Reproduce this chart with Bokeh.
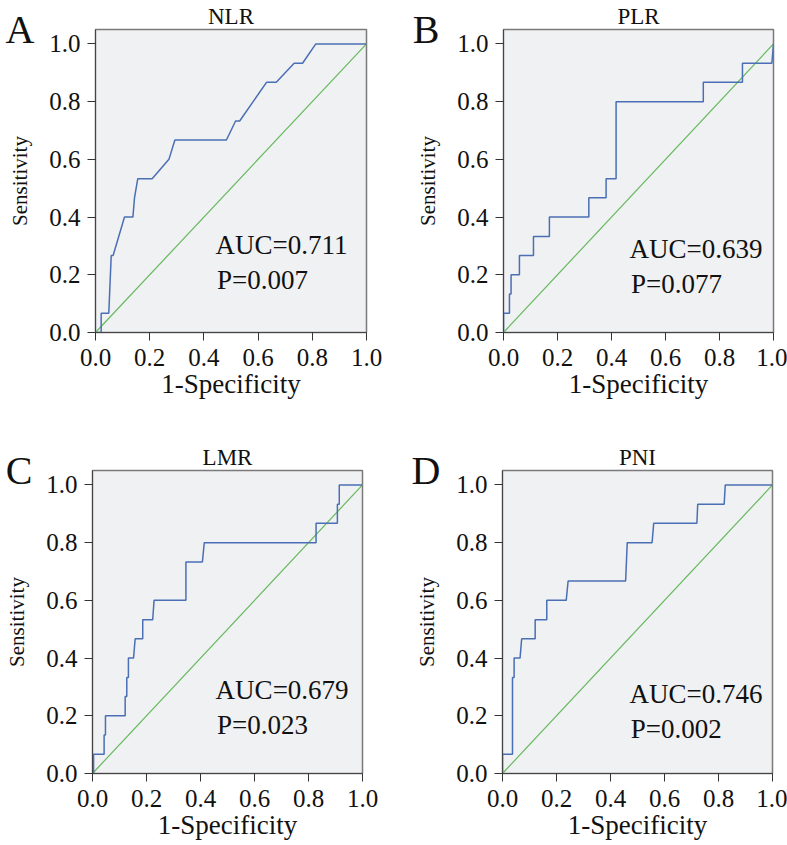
from bokeh.plotting import figure
from bokeh.models import Range1d, FixedTicker, PrintfTickFormatter, Label, LinearAxis
from bokeh.layouts import column, row
from bokeh.embed import file_html
from bokeh.resources import INLINE

# ---------------- data ----------------
ticks = [0.0, 0.2, 0.4, 0.6, 0.8, 1.0]
titles = ["NLR", "PLR", "LMR", "PNI"]
letters = ["A", "B", "C", "D"]
auc_texts = ["AUC=0.711", "AUC=0.639", "AUC=0.679", "AUC=0.746"]
p_texts = ["P=0.007", "P=0.077", "P=0.023", "P=0.002"]
ref_x = [0.0, 1.0]
ref_y = [0.0, 1.0]

nlr_fpr = [0, 0.021, 0.021, 0.049, 0.052, 0.058, 0.065, 0.107, 0.138, 0.144, 0.156, 0.209,
           0.271, 0.293, 0.483, 0.517, 0.532, 0.631, 0.667, 0.733, 0.764, 0.813, 1.0]
nlr_tpr = [0, 0, 0.067, 0.067, 0.133, 0.267, 0.267, 0.4, 0.4, 0.467, 0.533, 0.533,
           0.6, 0.667, 0.667, 0.733, 0.733, 0.867, 0.867, 0.933, 0.933, 1.0, 1.0]
plr_fpr = [0, 0, 0.022, 0.022, 0.028, 0.028, 0.059, 0.059, 0.111, 0.111, 0.170, 0.170,
           0.316, 0.316, 0.380, 0.380, 0.417, 0.417, 0.740, 0.740, 0.885, 0.885, 0.994, 1.0]
plr_tpr = [0, 0.067, 0.067, 0.133, 0.133, 0.2, 0.2, 0.267, 0.267, 0.333, 0.333, 0.4,
           0.4, 0.467, 0.467, 0.533, 0.533, 0.8, 0.8, 0.867, 0.867, 0.933, 0.933, 1.0]
lmr_fpr = [0, 0.004, 0.004, 0.043, 0.043, 0.048, 0.048, 0.121, 0.121, 0.127, 0.127, 0.133,
           0.133, 0.152, 0.158, 0.186, 0.186, 0.223, 0.228, 0.346, 0.346, 0.407, 0.414,
           0.828, 0.828, 0.907, 0.907, 0.914, 0.914, 1.0]
lmr_tpr = [0, 0, 0.067, 0.067, 0.133, 0.133, 0.2, 0.2, 0.267, 0.267, 0.333, 0.333,
           0.4, 0.4, 0.467, 0.467, 0.533, 0.533, 0.6, 0.6, 0.733, 0.733, 0.8,
           0.8, 0.867, 0.867, 0.933, 0.933, 1.0, 1.0]
pni_fpr = [0, 0, 0.037, 0.037, 0.043, 0.043, 0.065, 0.071, 0.121, 0.121, 0.164, 0.164,
           0.236, 0.243, 0.456, 0.459, 0.462, 0.554, 0.560, 0.720, 0.723, 0.821, 0.825, 1.0]
pni_tpr = [0, 0.067, 0.067, 0.333, 0.333, 0.4, 0.4, 0.467, 0.467, 0.533, 0.533, 0.6,
           0.6, 0.667, 0.667, 0.733, 0.8, 0.8, 0.867, 0.867, 0.933, 0.933, 1.0, 1.0]
curves = [(nlr_fpr, nlr_tpr), (plr_fpr, plr_tpr), (lmr_fpr, lmr_tpr), (pni_fpr, pni_tpr)]

# ---------------- style ----------------
FONT = "Liberation Serif"
BLUE = "#4a6fb5"
GREEN = "#66b95c"
BG = "#f0f1f3"
INK = "#111111"

# (width, height, left, right, top, bottom)
geom = [
    (408, 437, 95, 42, 29, 105),
    (379, 437, 95, 14, 29, 105),
    (408, 408, 92, 46, 33, 72),
    (379, 408, 94, 15, 33, 72),
]
letter_standoff = [-29, -26, -30, -28]
auc_pos = [(0.443, 0.302, 0.181), (0.467, 0.288, 0.167), (0.456, 0.288, 0.167), (0.47, 0.274, 0.153)]


def letter_axis(letter, standoff):
    return LinearAxis(ticker=FixedTicker(ticks=[]), axis_line_color=None,
                      major_tick_line_color=None, minor_tick_line_color=None,
                      major_label_text_font_size="0px",
                      axis_label=letter, axis_label_orientation="horizontal",
                      axis_label_align="end", axis_label_standoff=standoff,
                      axis_label_text_font=FONT, axis_label_text_font_size="40px",
                      axis_label_text_font_style="normal", axis_label_text_color=INK,
                      axis_label_text_baseline="middle")


def panel(i):
    w, h, bl, br, bt, bb = geom[i]
    fpr, tpr = curves[i]
    p = figure(width=w, height=h, output_backend="svg", toolbar_location=None,
               x_range=Range1d(0, 1), y_range=Range1d(0, 1.05),
               min_border_left=bl, min_border_right=br, min_border_top=bt,
               min_border_bottom=bb, title=titles[i])
    p.title.align = "center"
    p.title.text_font = FONT
    p.title.text_font_size = "23px"
    p.title.text_font_style = "normal"
    p.title.text_color = INK
    p.title.standoff = 2
    p.background_fill_color = BG
    p.border_fill_color = "white"
    p.outline_line_color = "#7a7a7a"
    p.outline_line_width = 1.5
    p.xgrid.visible = False
    p.ygrid.visible = False

    for ax in (p.xaxis[0], p.yaxis[0]):
        ax.ticker = FixedTicker(ticks=ticks)
        ax.formatter = PrintfTickFormatter(format="%.1f")
        ax.minor_tick_line_color = None
        ax.major_tick_in = 0
        ax.major_tick_out = 8
        ax.major_tick_line_color = "#333333"
        ax.axis_line_color = "#444444"
        ax.major_label_text_font = FONT
        ax.major_label_text_font_size = "25px"
        ax.major_label_text_color = INK
        ax.axis_label_text_font = FONT
        ax.axis_label_text_font_style = "normal"
        ax.axis_label_text_color = INK
    p.xaxis.major_label_standoff = 8
    p.yaxis.major_label_standoff = 7
    p.yaxis.axis_label = "Sensitivity"
    p.yaxis.axis_label_text_font_size = "21px"
    p.yaxis.axis_label_standoff = 14
    p.xaxis.axis_label = "1-Specificity"
    p.xaxis.axis_label_text_font_size = "27px"
    p.xaxis.axis_label_standoff = 0

    p.line(ref_x, ref_y, line_color=GREEN, line_width=1.2)
    p.line(fpr, tpr, line_color=BLUE, line_width=1.5)

    p.add_layout(letter_axis(letters[i], letter_standoff[i]), "left")

    ax_, ay1, ay2 = auc_pos[i]
    p.add_layout(Label(x=ax_, y=ay1, text=auc_texts[i], text_align="left",
                       text_baseline="alphabetic", text_font=FONT,
                       text_font_size="27px", text_color=INK))
    p.add_layout(Label(x=ax_ + 0.005, y=ay2, text=p_texts[i], text_align="left",
                       text_baseline="alphabetic", text_font=FONT,
                       text_font_size="27px", text_color=INK))
    return p


plots = [panel(i) for i in range(4)]
layout = column(row(plots[0], plots[1]), row(plots[2], plots[3]))

open("out.html", "w").write(file_html(layout, INLINE))
